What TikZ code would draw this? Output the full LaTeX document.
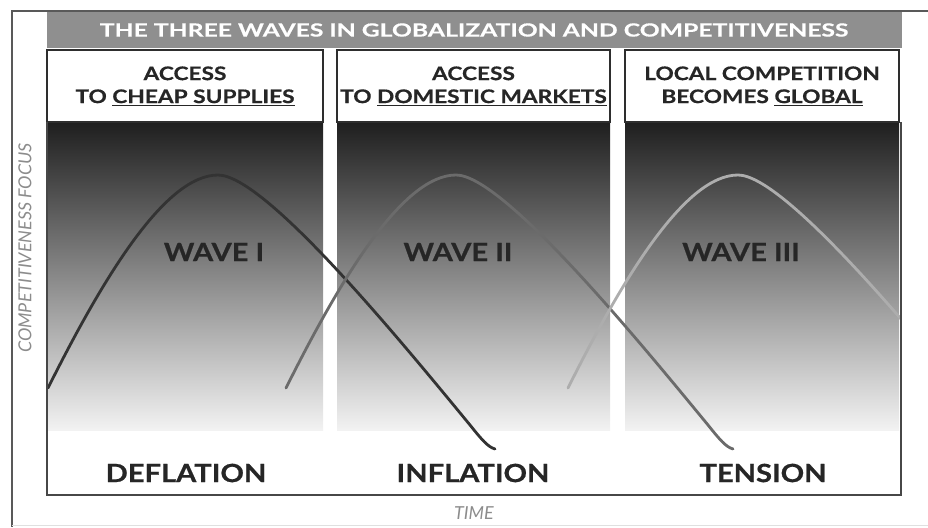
\documentclass[tikz,border=0pt]{standalone}
\usepackage{fontspec}
\setmainfont{Lato}
\newfontfamily\wavefont[FakeStretch=1.16, FakeBold=0.7]{Lato}
\newfontfamily\headfont[FakeStretch=1.21, FakeBold=0.5]{Lato}
\newfontfamily\titlefont[FakeStretch=1.36, FakeBold=0.5]{Lato}
\tikzset{%
    frm/.style={line width=1.3pt, draw=black!72},
    hdr/.style={rectangle, draw=black!82, line width=1.6pt, fill=white, align=center, minimum height=2.16cm, inner sep=0pt, text=black!85, font=\headfont\bfseries\fontsize{16}{19.6}\selectfont},
    wlab/.style={text=black!85, font=\wavefont\bfseries\fontsize{21.4}{25}\selectfont},
    axl/.style={text=black!45, font=\itshape\fontsize{15.3}{18}\selectfont},
    pnl/.style={top color=black!88, bottom color=black!5, draw=none},
    wav/.style={line width=2.4pt, line cap=round},
}
\begin{document}
\begin{tikzpicture}[x=0.03cm, y=-0.03cm]
    \useasboundingbox (0,0) rectangle (928,527);
    \draw [black!65, line width=1pt] (928,11) -- (12,11) -- (12,527);
    \draw [black!12] (12,525) -- (928,525);
    \fill [black!44] (47,12) rectangle (902,48);
    \node (ttl) at (474,30) [text=white, font=\titlefont\bfseries\fontsize{15.5}{18}\selectfont] {THE THREE WAVES IN GLOBALIZATION AND COMPETITIVENESS};
    \foreach \a/\b in {47/323, 337/610, 625/899}
        \shade [pnl] (\a,122) rectangle (\b,430);
    \begin{scope}
        \clip (47,50) rectangle (900,495);
        \foreach \dx/\col in {0/black!80, 238/black!58, 520/black!32}
            \draw [wav, draw=\col, shift={(\dx,0)}] (48,388) .. controls (103,278) and (165,175) .. (218,175)
                .. controls (265,175) and (400,340) .. (470,425) .. controls (482,440) and (488,447) .. (495,449);
    \end{scope}
    \node [hdr, minimum width=8.28cm] (hd1) at (185,86) {ACCESS\\TO \underline{CHEAP SUPPLIES}};
    \node [hdr, minimum width=8.19cm] (hd2) at (473.5,86) {ACCESS\\TO \underline{DOMESTIC MARKETS}};
    \node [hdr, minimum width=8.22cm] (hd3) at (762,86) {LOCAL COMPETITION\\BECOMES \underline{GLOBAL}};
    \draw [frm] (47,122) -- (47,495) -- (901,495) -- (901,122);
    \node [wlab] (wv1) at (214,252) {WAVE I};
    \node [wlab] (wv2) at (458,252) {WAVE II};
    \node [wlab] (wv3) at (741,252) {WAVE III};
    \node [wlab] (bt1) at (186,473) {DEFLATION};
    \node [wlab] (bt2) at (473,473) {INFLATION};
    \node [wlab] (bt3) at (763,473) {TENSION};
    \node [axl, rotate=90] (yax) at (25,248) {COMPETITIVENESS FOCUS};
    \node [axl] (xax) at (474,513) {TIME};
\end{tikzpicture}
\end{document}
